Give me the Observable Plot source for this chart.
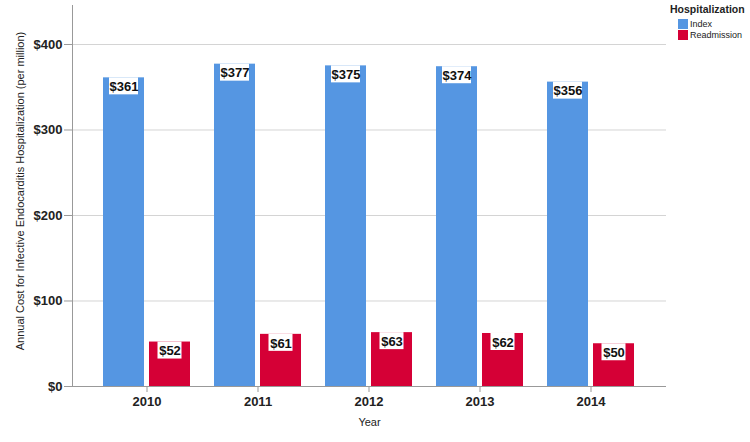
<!DOCTYPE html>
<html>
<head>
<meta charset="utf-8">
<script src="https://cdn.jsdelivr.net/npm/d3@7"></script>
<script src="https://cdn.jsdelivr.net/npm/@observablehq/plot@0.6"></script>
<style>
  body { margin: 0; background: #fff; font-family: "Liberation Sans", Arial, sans-serif; }
  #wrap { position: relative; width: 750px; height: 442px; overflow: hidden; }
  #legend { position: absolute; left: 670px; top: 3px; white-space: nowrap; font-family: "Liberation Sans", Arial, sans-serif; }
  #legend .t { font-weight: bold; font-size: 10.5px; color: #222; margin-bottom: 3px; }
  #legend .i { font-size: 9px; color: #222; display: flex; align-items: center; height: 11px; margin-left: 8px; }
  #legend .s { width: 10px; height: 10px; margin-right: 2px; }
</style>
</head>
<body>
<div id="wrap"></div>
<script>
const years = ["2010", "2011", "2012", "2013", "2014"];
const seriesNames = ["Index", "Readmission"];
const indexValues = [361, 377, 375, 374, 356];
const readmissionValues = [52, 61, 63, 62, 50];
const yTicks = [0, 100, 200, 300, 400];
const colors = ["#5596e2", "#d50036"];
const yTitle = "Annual Cost for Infective Endocarditis Hospitalization (per million)";
const xTitle = "Year";
const legendTitle = "Hospitalization";

const indexData = years.map((y, i) => ({year: y, series: "Index", value: indexValues[i]}));
const readData = years.map((y, i) => ({year: y, series: "Readmission", value: readmissionValues[i]}));

const fmt = d => "$" + d;

const chart = Plot.plot({
  width: 750,
  height: 442,
  marginLeft: 72,
  marginRight: 84,
  marginTop: 5,
  marginBottom: 56,
  style: {fontFamily: "Liberation Sans, Arial, sans-serif", color: "#222"},
  x: {domain: years, paddingInner: 0.216, paddingOuter: 0.2835, axis: null},
  y: {domain: [0, 445.6], axis: null},
  marks: [
    Plot.gridY(yTicks.filter(d => d > 0), {stroke: "#d4d4d4", strokeOpacity: 1}),
    Plot.barY(indexData, {x: "year", y: "value", fill: colors[0], insetRight: 46}),
    Plot.barY(readData, {x: "year", y: "value", fill: colors[1], insetLeft: 46}),
    Plot.barY(indexData, {x: "year", y1: "value", y2: "value", insetBottom: -17, insetLeft: 6, insetRight: 52, fill: "white"}),
    Plot.barY(readData, {x: "year", y1: "value", y2: "value", insetBottom: -17, insetLeft: 54.5, insetRight: 8.5, fill: "white"}),
    Plot.text(indexData, {x: "year", y: "value", text: d => fmt(d.value), dx: -23, dy: 9, fontWeight: "bold", fontSize: 13, fill: "#111", lineAnchor: "middle"}),
    Plot.text(readData, {x: "year", y: "value", text: d => fmt(d.value), dx: 23, dy: 9, fontWeight: "bold", fontSize: 13, fill: "#111", lineAnchor: "middle"}),
    Plot.axisY({ticks: yTicks, tickFormat: fmt, tickSize: 8, tickPadding: 2, fontWeight: "bold", fontSize: 13, stroke: "#999", label: null}),
    Plot.axisX({tickSize: 6, tickPadding: 4, fontWeight: "bold", fontSize: 13, stroke: "#999", label: null}),
    Plot.frame({anchor: "left", stroke: "#999"}),
    Plot.ruleY([0], {stroke: "#999"}),
    Plot.text([yTitle], {frameAnchor: "left", textAnchor: "middle", rotate: -90, dx: -52, dy: -5, fontSize: 11, fill: "#222"}),
    Plot.text([xTitle], {frameAnchor: "bottom", dy: 39, fontSize: 11, fill: "#222"})
  ]
});

const wrap = document.getElementById("wrap");
wrap.appendChild(chart);

const legend = document.createElement("div");
legend.id = "legend";
legend.innerHTML = `<div class="t">${legendTitle}</div>` +
  seriesNames.map((n, i) => `<div class="i"><span class="s" style="background:${colors[i]}"></span>${n}</div>`).join("");
wrap.appendChild(legend);
</script>
</body>
</html>
